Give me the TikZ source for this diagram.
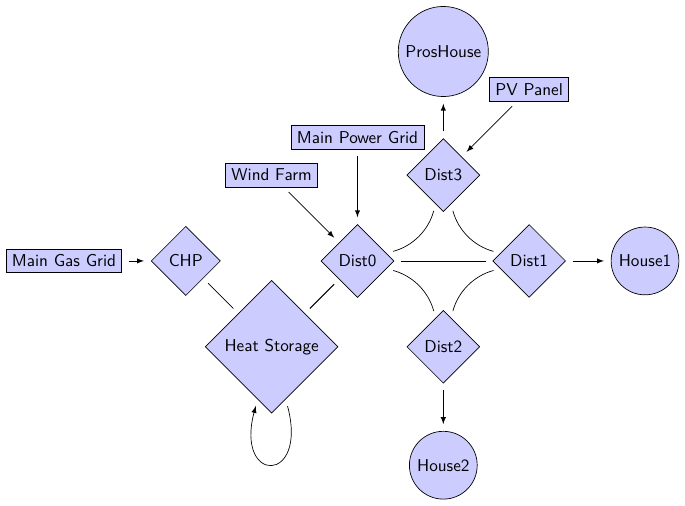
\documentclass[tikz,border=0pt]{standalone}
\usepackage{amsmath}
\usepackage{tikz}
\usetikzlibrary{shapes.geometric,matrix}

\begin{document}
\begin{tikzpicture}[font=\sffamily, >=latex,
    box/.style={draw, fill=blue!20},
    dist/.style={draw, fill=blue!20, diamond},
    house/.style={draw, fill=blue!20, circle},
    every path/.style={shorten >=4pt, shorten <=4pt}]
        \matrix[column sep={5em,between origins}, row sep={5em,between origins}] at (0,0)
        {
          &&&& \node[house,yshift=2.2em](PH) {ProsHouse}; & \node[box](PV) {PV Panel}; &\\
          && \node[box](WF) {Wind Farm}; & \node[box,yshift=2.2em](MPG) {Main Power Grid}; & \node[dist](D3) {Dist3}; &&\\
          \node[box,xshift=-2.1em](MGG) {Main Gas Grid}; & \node[dist](CHP) {CHP}; && \node[dist](D0) {Dist0}; && \node[dist](D1) {Dist1}; & \node[house,xshift=1.75em](H1) {House1};\\
          && \node[dist](HS) {Heat Storage}; && \node[dist](D2) {Dist2}; &&\\
          &&&& \node[house,yshift=-1.9em](H2) {House2}; &&\\
        };
      \draw[->] (MGG) -- (CHP);
      \draw (CHP) -- (HS);
      \draw[semithick] (HS) -- (D0);
      \draw[->] (WF) -- (D0);
      \draw[->] (MPG) -- (D0);
      \draw (D0) -- (D1);
      \draw (D0) to[bend right=30] (D3);
      \draw (D0) to[bend left=30] (D2);
      \draw (D3) to[bend right=30] (D1);
      \draw (D2) to[bend left=30] (D1);
      \draw[->] (PV) -- (D3);
      \draw[->] (D3) -- (PH);
      \draw[->] (D1) -- (H1);
      \draw[->] (D2) -- (H2);
      \draw[->] (HS) to[loop below] (HS);
      \path (MGG.center |- PH.center) ++(-3.64em,3em) coordinate (nw);
      \path (H1.center |- H2.center) ++(1.91em,-2.08em) coordinate (se);
      \useasboundingbox (nw) rectangle (se);
      \end{tikzpicture}
\end{document}
